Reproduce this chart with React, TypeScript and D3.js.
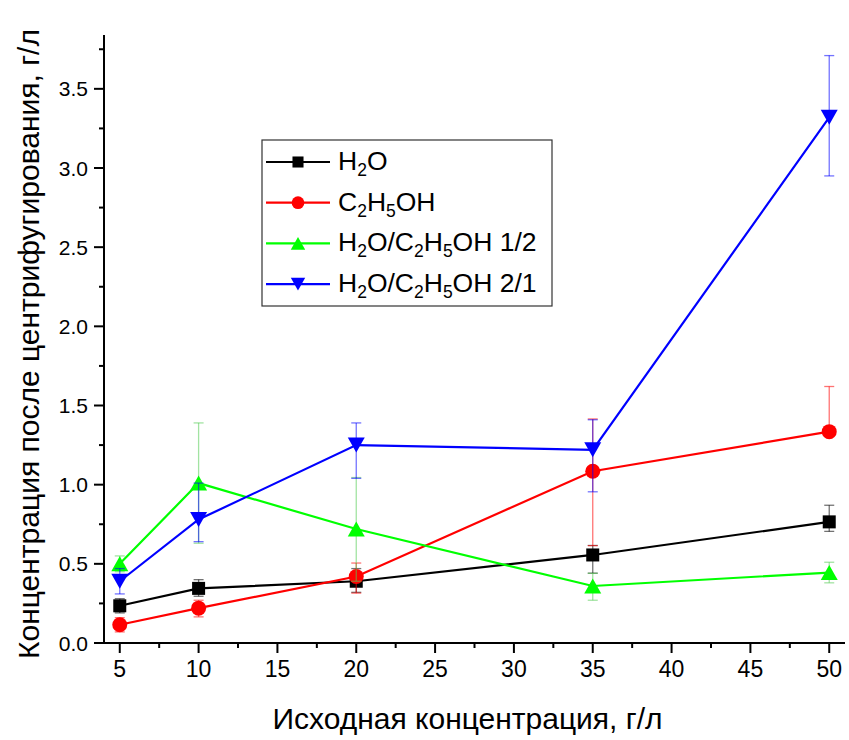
import React from "react";
import * as d3 from "d3";

// Initial concentration, g/L
const concentrations = [5, 10, 20, 35, 50];

// Concentration after centrifugation, g/L
const h2oValues = [0.235, 0.345, 0.39, 0.556, 0.765];
const ethanolValues = [0.115, 0.22, 0.42, 1.085, 1.335];
const mix12Values = [0.5, 1.01, 0.72, 0.36, 0.445];
const mix21Values = [0.39, 0.78, 1.25, 1.22, 3.32];

// Error bar extents (upper / lower deviation)
const h2oErrUp = [0.045, 0.055, 0.08, 0.06, 0.105];
const h2oErrDown = [0.045, 0.05, 0.07, 0.115, 0.06];
const ethanolErrUp = [0.045, 0.05, 0.085, 0.33, 0.285];
const ethanolErrDown = [0.045, 0.055, 0.105, 0.47, 0];
const mix12ErrUp = [0.05, 0.38, 0.325, 0.08, 0.065];
const mix12ErrDown = [0.05, 0.38, 0.33, 0.09, 0.065];
const mix21ErrUp = [0.08, 0.23, 0.14, 0.19, 0.39];
const mix21ErrDown = [0.08, 0.14, 0.21, 0.265, 0.37];

const xTicks = [5, 10, 15, 20, 25, 30, 35, 40, 45, 50];
const yTicks = [0, 0.5, 1, 1.5, 2, 2.5, 3, 3.5];

const xTitle = "Исходная концентрация, г/л";
const yTitle = "Концентрация после центрифугирования, г/л";

type Part = { t: string; sub?: boolean };
type Series = {
  name: Part[];
  values: number[];
  up: number[];
  down: number[];
  color: string;
  marker: "square" | "circle" | "triUp" | "triDown";
};

const series: Series[] = [
  { name: [{ t: "H" }, { t: "2", sub: true }, { t: "O" }], values: h2oValues, up: h2oErrUp, down: h2oErrDown, color: "#000000", marker: "square" },
  { name: [{ t: "C" }, { t: "2", sub: true }, { t: "H" }, { t: "5", sub: true }, { t: "OH" }], values: ethanolValues, up: ethanolErrUp, down: ethanolErrDown, color: "#ff0000", marker: "circle" },
  { name: [{ t: "H" }, { t: "2", sub: true }, { t: "O/C" }, { t: "2", sub: true }, { t: "H" }, { t: "5", sub: true }, { t: "OH 1/2" }], values: mix12Values, up: mix12ErrUp, down: mix12ErrDown, color: "#00ff00", marker: "triUp" },
  { name: [{ t: "H" }, { t: "2", sub: true }, { t: "O/C" }, { t: "2", sub: true }, { t: "H" }, { t: "5", sub: true }, { t: "OH 2/1" }], values: mix21Values, up: mix21ErrUp, down: mix21ErrDown, color: "#0000ff", marker: "triDown" },
];

const W = 849;
const H = 740;
const left = 104;
const right = 845;
const top = 35;
const bottom = 643;

const x = d3.scaleLinear().domain([4, 51]).range([left, right]);
const y = d3.scaleLinear().domain([0, 3.84]).range([bottom, top]);

const sans = "Arial, 'Liberation Sans', Helvetica, sans-serif";
const narrow = "'Liberation Sans Narrow', 'Arial Narrow', 'Liberation Sans', sans-serif";

function Marker({ kind, cx, cy, color, size = 1 }: { kind: Series["marker"]; cx: number; cy: number; color: string; size?: number }) {
  if (kind === "square") {
    const s = 13 * size;
    return <rect x={cx - s / 2} y={cy - s / 2} width={s} height={s} fill={color} />;
  }
  if (kind === "circle") {
    return <circle cx={cx} cy={cy} r={7.5 * size} fill={color} />;
  }
  const w = 17 * size;
  const h = 15 * size;
  if (kind === "triUp") {
    return <path d={`M${cx},${cy - h / 2}L${cx + w / 2},${cy + h / 2}L${cx - w / 2},${cy + h / 2}Z`} fill={color} />;
  }
  return <path d={`M${cx},${cy + h / 2}L${cx + w / 2},${cy - h / 2}L${cx - w / 2},${cy - h / 2}Z`} fill={color} />;
}

function Label({ parts, x0, y0, size }: { parts: Part[]; x0: number; y0: number; size: number }) {
  const nodes: React.ReactNode[] = [];
  let prevSub = false;
  parts.forEach((p, i) => {
    let dy = 0;
    if (p.sub && !prevSub) dy = size * 0.3;
    if (!p.sub && prevSub) dy = -size * 0.3;
    nodes.push(
      <tspan key={i} dy={dy} fontSize={p.sub ? size * 0.66 : size}>
        {p.t}
      </tspan>
    );
    prevSub = !!p.sub;
  });
  return (
    <text x={x0} y={y0} fontFamily={sans} fontSize={size} fill="#000" dominantBaseline="middle">
      {nodes}
    </text>
  );
}

export default function App() {
  const line = d3
    .line<number>()
    .x((_, i) => x(concentrations[i]))
    .y((v) => y(v));

  const xMinor = d3.range(5, 51, 2.5).filter((v) => !xTicks.includes(v));
  const yMinor = d3.range(0.25, 3.84, 0.5);

  const legendX = 262;
  const legendY = 140;
  const rowGap = 40.7;

  return (
    <svg width={W} height={H} style={{ position: "absolute", left: 0, top: 0, background: "#fff" }}>
      <rect width={W} height={H} fill="#fff" />

      {/* series: error bars, connecting lines, markers */}
      {series.map((s, si) => (
        <g key={si}>
          {s.values.map((v, i) => {
            const cx = x(concentrations[i]);
            const y1 = y(v + s.up[i]);
            const y2 = y(v - s.down[i]);
            return (
              <g key={i} stroke={s.color === "#00ff00" ? "#55cc55" : s.color} strokeOpacity={0.55} strokeWidth={1.3}>
                <line x1={cx} x2={cx} y1={y1} y2={y2} />
                {s.up[i] > 0 && <line x1={cx - 5} x2={cx + 5} y1={y1} y2={y1} />}
                {s.down[i] > 0 && <line x1={cx - 5} x2={cx + 5} y1={y2} y2={y2} />}
              </g>
            );
          })}
          <path d={line(s.values) || ""} fill="none" stroke={s.color} strokeWidth={2.2} />
          {s.values.map((v, i) => (
            <Marker key={i} kind={s.marker} cx={x(concentrations[i])} cy={y(v)} color={s.color} />
          ))}
        </g>
      ))}

      {/* axes */}
      <line x1={left} x2={left} y1={top} y2={bottom + 1} stroke="#000" strokeWidth={2} />
      <line x1={left - 1} x2={right} y1={bottom} y2={bottom} stroke="#000" strokeWidth={2} />

      {yTicks.map((t) => (
        <g key={t}>
          <line x1={left - 10} x2={left} y1={y(t)} y2={y(t)} stroke="#000" strokeWidth={2} />
          <text x={left - 16} y={y(t)} textAnchor="end" dominantBaseline="central" fontFamily={sans} fontSize={21} fill="#000">
            {d3.format(".1f")(t)}
          </text>
        </g>
      ))}
      {yMinor.map((t) => (
        <line key={t} x1={left - 5} x2={left} y1={y(t)} y2={y(t)} stroke="#000" strokeWidth={2} />
      ))}

      {xTicks.map((t) => (
        <g key={t}>
          <line x1={x(t)} x2={x(t)} y1={bottom} y2={bottom + 10} stroke="#000" strokeWidth={2} />
          <text x={x(t)} y={bottom + 26} textAnchor="middle" dominantBaseline="central" fontFamily={narrow} fontSize={23} fill="#000">
            {t}
          </text>
        </g>
      ))}
      {xMinor.map((t) => (
        <line key={t} x1={x(t)} x2={x(t)} y1={bottom} y2={bottom + 5} stroke="#000" strokeWidth={2} />
      ))}

      {/* axis titles */}
      <text x={(left + right) / 2 - 7} y={718} textAnchor="middle" dominantBaseline="central" fontFamily={narrow} fontSize={30} fill="#000">
        {xTitle}
      </text>
      <text
        transform={`translate(28, 344) rotate(-90)`}
        textAnchor="middle"
        dominantBaseline="central"
        fontFamily={sans}
        fontSize={30}
        fill="#000"
      >
        {yTitle}
      </text>

      {/* legend */}
      <rect x={legendX} y={legendY} width={290} height={166} fill="#fff" stroke="#333" strokeWidth={1.2} />
      {series.map((s, i) => {
        const cy = legendY + 22 + i * rowGap;
        return (
          <g key={i}>
            <line x1={legendX + 4} x2={legendX + 68} y1={cy} y2={cy} stroke={s.color} strokeWidth={2.2} />
            <Marker kind={s.marker} cx={legendX + 36} cy={cy} color={s.color} size={0.85} />
            <Label parts={s.name} x0={legendX + 76} y0={cy + 1} size={26.5} />
          </g>
        );
      })}
    </svg>
  );
}
